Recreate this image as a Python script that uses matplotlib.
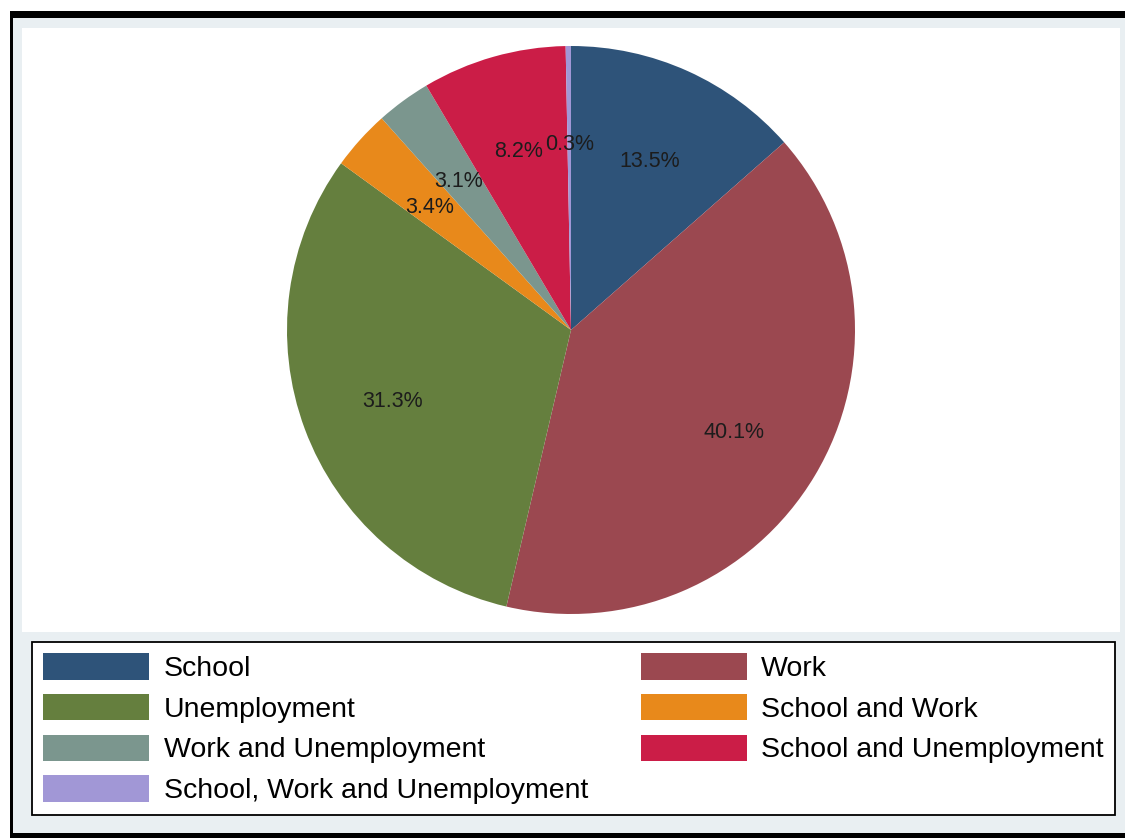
'''
    Pie chart of activity status shares
'''

# - Imports

import matplotlib
matplotlib.use("Agg")
import matplotlib.pyplot as plt
from matplotlib.patches import Rectangle

# - Data

categories = [
    "School",
    "Work",
    "Unemployment",
    "School and Work",
    "Work and Unemployment",
    "School and Unemployment",
    "School, Work and Unemployment",
]
shares = [13.5, 40.1, 31.3, 3.4, 3.1, 8.2, 0.3]
colors = ["#2e5379", "#9b4850", "#657f3e", "#e8891b", "#7b968e", "#cb1d47", "#a197d6"]

# - Figure

W, H = 1125, 838


def fig_box(x0, y0, x1, y1):
    '''Pixel box (top-left origin) to figure fractions'''
    return x0 / W, 1 - y1 / H, (x1 - x0) / W, (y1 - y0) / H


def main():
    plt.rcParams["font.family"] = ["Liberation Sans", "DejaVu Sans"]

    fig = plt.figure(figsize=(W / 100, H / 100), dpi=100, facecolor="white")

    # Frame: light background with black edges on top, left and bottom
    bg = "#e9eff2"
    for (x0, y0, x1, y1), c in [
        ((13, 18, W, 833), bg),
        ((10, 11, W, 18), "black"),
        ((10, 11, 13, H), "black"),
        ((10, 833, W, H), "black"),
    ]:
        l, b, w, h = fig_box(x0, y0, x1, y1)
        fig.patches.append(Rectangle((l, b), w, h, transform=fig.transFigure,
                                     facecolor=c, edgecolor="none", zorder=-5))

    # Plot region
    px0, py0, px1, py1 = 22, 28, 1120, 632
    radius_px = 284
    ax = fig.add_axes(fig_box(px0, py0, px1, py1))

    wedges, _, autotexts = ax.pie(
        shares, colors=colors, startangle=90, counterclock=False,
        autopct=lambda p: f"{p:.1f}%", pctdistance=0.67,
        wedgeprops=dict(linewidth=0), frame=True,
    )
    # Percent labels sit a little below the radial point
    for t in autotexts:
        t.set_fontsize(15.5)
        t.set_color("#1c1c1c")
        x, y = t.get_position()
        t.set_position((x, y - 5 / radius_px))

    ax.set_facecolor("white")
    for s in ax.spines.values():
        s.set_visible(False)
    ax.set_xticks([])
    ax.set_yticks([])
    ax.set_aspect("auto")
    ax.set_xlim(-(px1 - px0) / 2 / radius_px, (px1 - px0) / 2 / radius_px)
    ax.set_ylim(-(py1 - py0) / 2 / radius_px, (py1 - py0) / 2 / radius_px)

    # Legend, filled row by row across two columns
    order = [0, 2, 4, 6, 1, 3, 5]
    leg = fig.legend(
        [wedges[i] for i in order], [categories[i] for i in order],
        ncol=2, mode="expand", loc="upper left",
        bbox_to_anchor=fig_box(32, 642, 1115, 814),
        fontsize=20.5, handlelength=3.72, handleheight=1.05,
        handletextpad=0.5, labelspacing=0.41, borderpad=0.4,
        borderaxespad=0, fancybox=False, framealpha=1,
        edgecolor="black", facecolor="white",
    )
    leg.get_frame().set_linewidth(1.3)

    fig.savefig("out.png", dpi=100, facecolor="white")


# - Main

if __name__ == "__main__":
    main()
